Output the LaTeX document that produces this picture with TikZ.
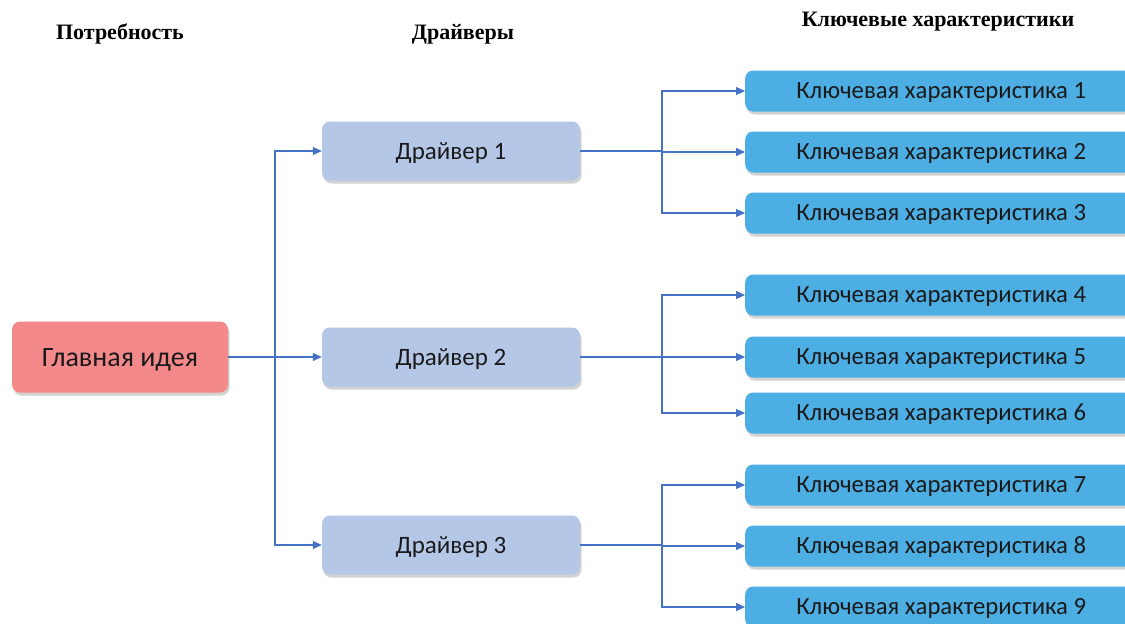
\documentclass[tikz,border=0pt]{standalone}
\usepackage{fontspec}
\setmainfont{Carlito}
\newfontfamily\hdrfont{Liberation Serif}
\usetikzlibrary{arrows.meta,shadows}
\definecolor{mainc}{HTML}{F4898B}
\definecolor{drvc}{HTML}{B4C7E7}
\definecolor{kcc}{HTML}{4CAEE2}
\definecolor{linec}{HTML}{4472C4}
\definecolor{txt}{HTML}{1A1A1A}
\tikzset{
  boxbase/.style={rounded corners=8pt, draw=none, text=txt, inner sep=0pt,
    text depth=0pt,
    drop shadow={opacity=0.35, shadow xshift=1.5pt, shadow yshift=-3pt}},
  mainbox/.style={boxbase, fill=mainc, minimum width=216pt, minimum height=71pt, text height=18pt, font=\fontsize{28}{32}\selectfont},
  drvbox/.style={boxbase, fill=drvc, minimum width=258pt, minimum height=59pt, text height=16pt, font=\fontsize{25}{29}\selectfont},
  kcbox/.style={boxbase, fill=kcc, minimum width=392pt, minimum height=41pt, text height=15.8pt, font=\fontsize{24.7}{28}\selectfont},
  hdr/.style={font=\hdrfont\bfseries\fontsize{22}{26}\selectfont, text=black, inner sep=0pt},
  conn/.style={draw=linec, line width=1.1pt},
  arr/.style={conn, -{Triangle[length=9pt,width=8pt]}},
}
\begin{document}
\begin{tikzpicture}[x=1pt,y=-1pt]
\clip (0,0) rectangle (1125,624);
\fill[white] (0,0) rectangle (1125,624);

\node[hdr] (h1) at (120,34) {Потребность};
\node[hdr] (h2) at (463,34) {Драйверы};
\node[hdr] (h3) at (938,22) {Ключевые характеристики};

\node[mainbox] (m) at (120,357) {Главная идея};

\node[drvbox] (d1) at (451,151) {Драйвер 1};
\node[drvbox] (d2) at (451,357) {Драйвер 2};
\node[drvbox] (d3) at (451,545) {Драйвер 3};

\node[kcbox, anchor=west] (k1) at (745,91) {Ключевая характеристика 1};
\node[kcbox, anchor=west] (k2) at (745,152) {Ключевая характеристика 2};
\node[kcbox, anchor=west] (k3) at (745,213) {Ключевая характеристика 3};
\node[kcbox, anchor=west] (k4) at (745,295) {Ключевая характеристика 4};
\node[kcbox, anchor=west] (k5) at (745,357) {Ключевая характеристика 5};
\node[kcbox, anchor=west] (k6) at (745,413) {Ключевая характеристика 6};
\node[kcbox, anchor=west] (k7) at (745,485) {Ключевая характеристика 7};
\node[kcbox, anchor=west] (k8) at (745,546) {Ключевая характеристика 8};
\node[kcbox, anchor=west] (k9) at (745,607) {Ключевая характеристика 9};

\coordinate (jm) at (275,357);
\draw[conn] (m.east) -- (jm);
\draw[arr] (jm) |- (d1.west);
\draw[arr] (jm) -- (d2.west);
\draw[arr] (jm) |- (d3.west);

\coordinate (jd1) at (662,151);
\coordinate (jd2) at (662,357);
\coordinate (jd3) at (662,545);
\draw[conn] (d1.east) -- (jd1);
\draw[conn] (d2.east) -- (jd2);
\draw[conn] (d3.east) -- (jd3);
\draw[arr] (jd1) |- (k1.west);
\draw[arr] (jd1) |- (k2.west);
\draw[arr] (jd1) |- (k3.west);
\draw[arr] (jd2) |- (k4.west);
\draw[arr] (jd2) |- (k5.west);
\draw[arr] (jd2) |- (k6.west);
\draw[arr] (jd3) |- (k7.west);
\draw[arr] (jd3) |- (k8.west);
\draw[arr] (jd3) |- (k9.west);
\end{tikzpicture}
\end{document}
